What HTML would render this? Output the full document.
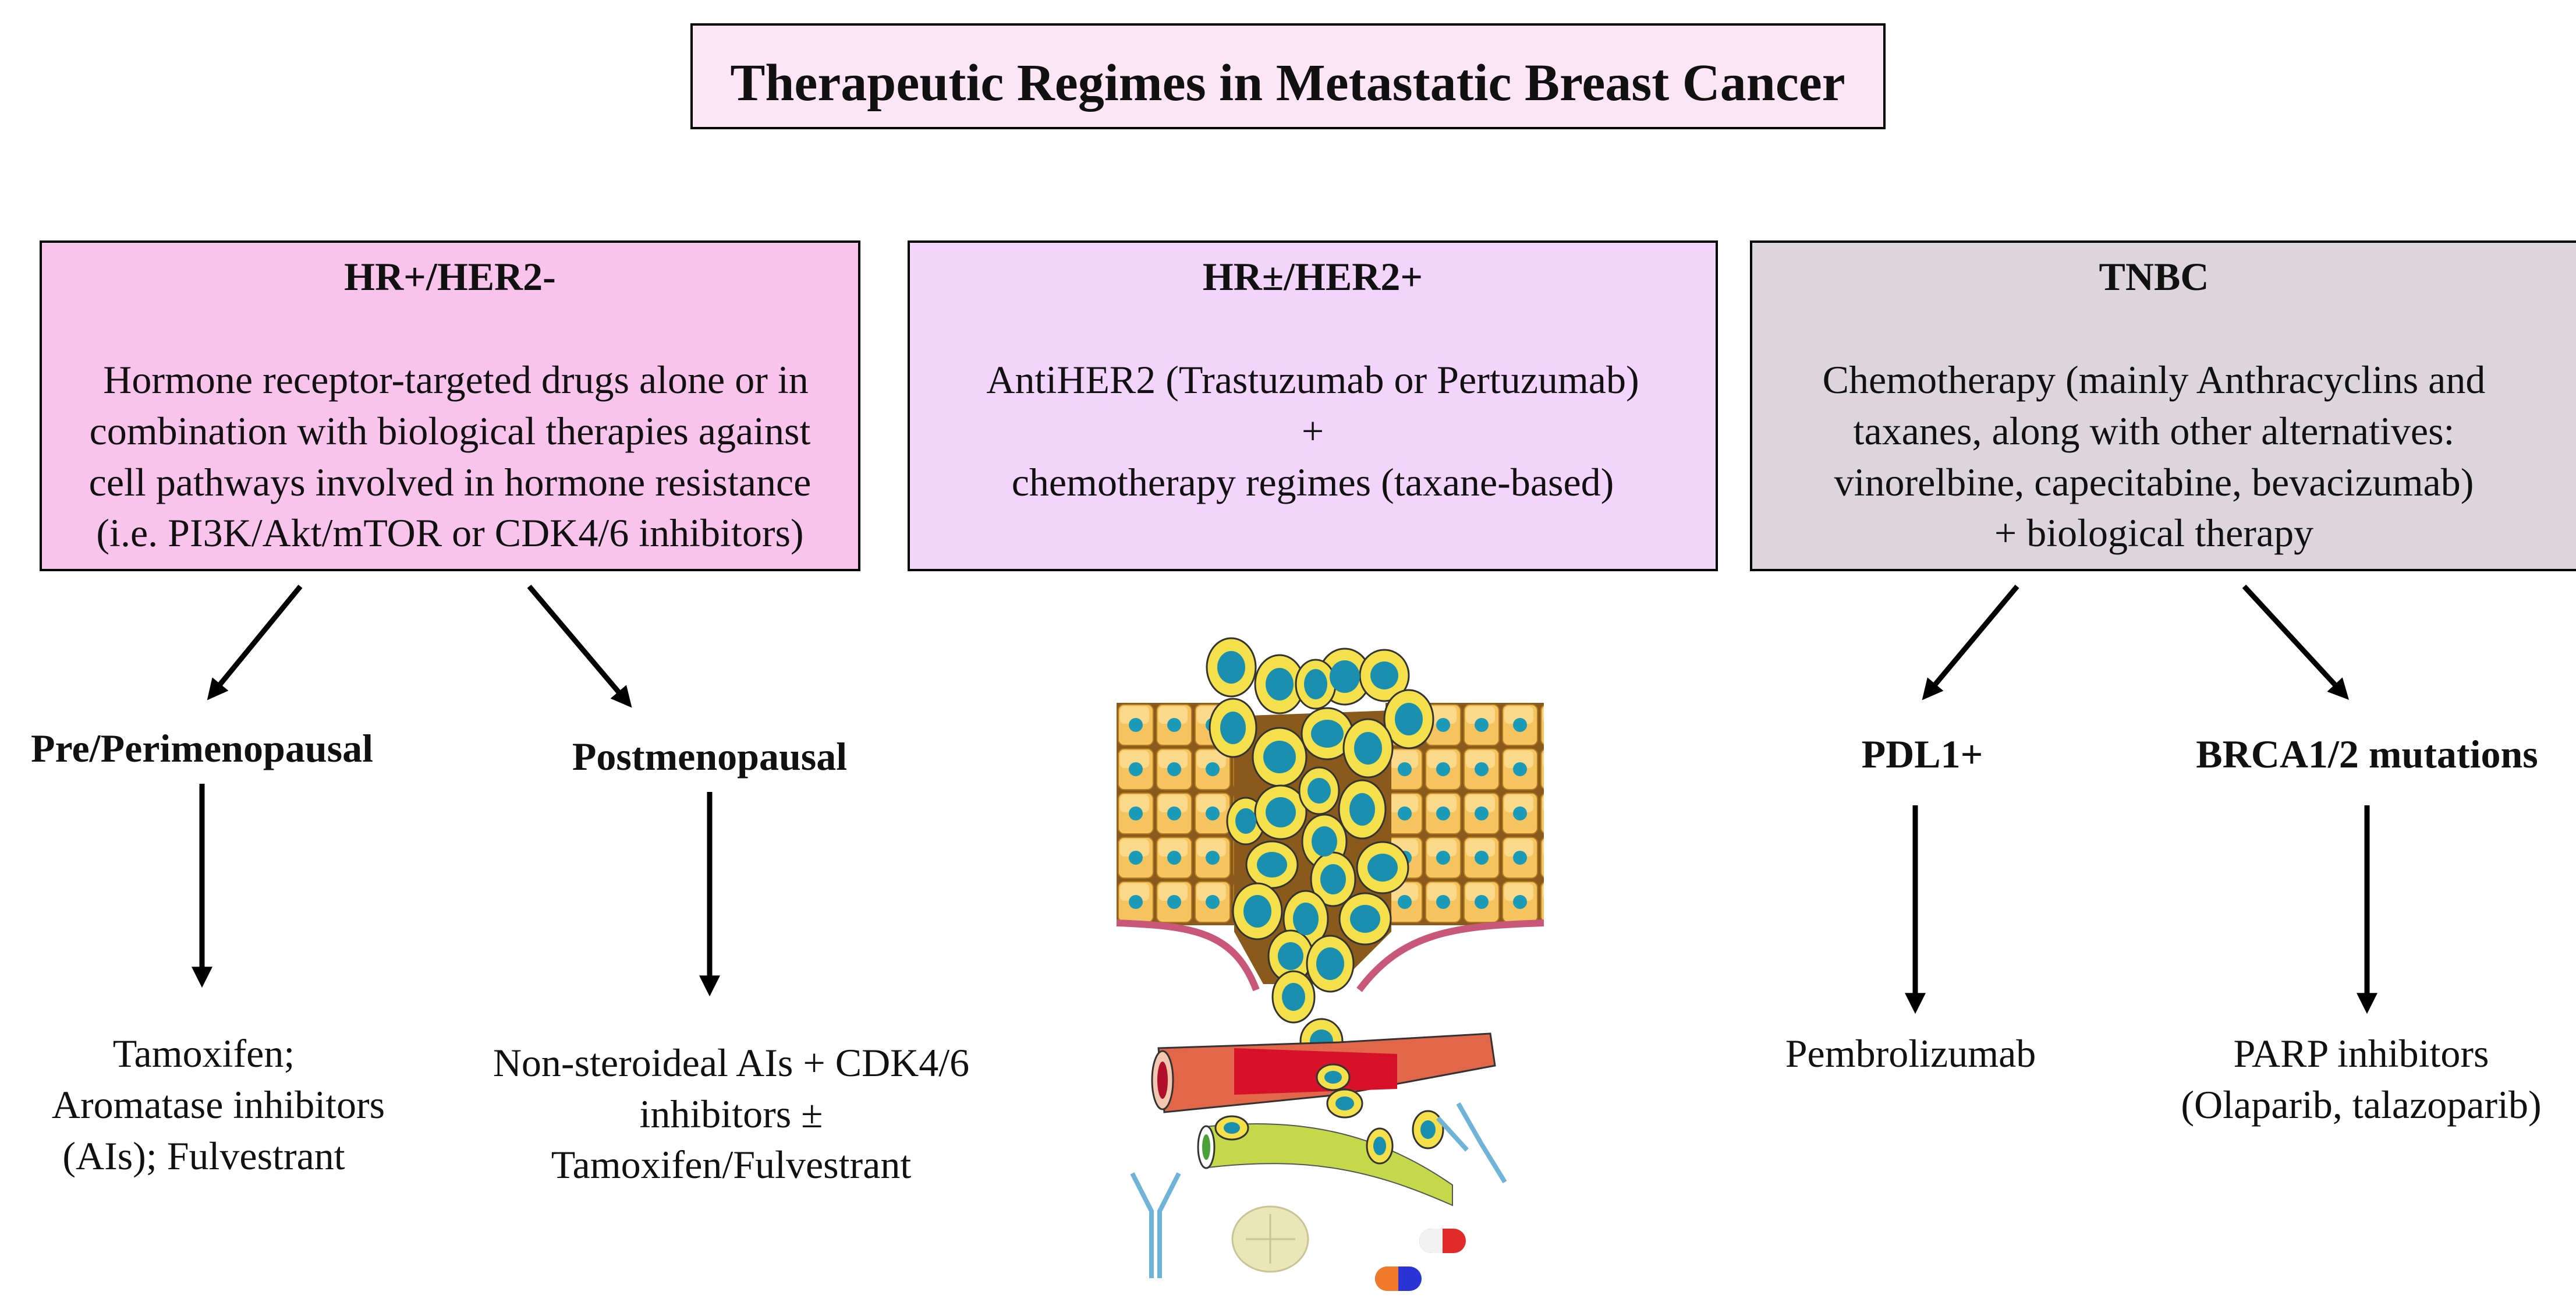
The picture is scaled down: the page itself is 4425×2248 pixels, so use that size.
<!DOCTYPE html>
<html><head><meta charset="utf-8"><style>
html,body{margin:0;padding:0;background:#fff;}
svg{display:block;}
text{font-family:"Liberation Serif","Times New Roman",Times,serif;fill:#111;}
.b{font-weight:bold;}
</style></head><body>
<svg width="4425" height="2248" viewBox="0 0 4425 2248" xmlns="http://www.w3.org/2000/svg" font-family="Liberation Serif, Times New Roman, serif">
<defs>
<marker id="ah" markerWidth="4" markerHeight="4" refX="2.2" refY="2" orient="auto" markerUnits="strokeWidth">
<path d="M0,0 L4,2 L0,4 z" fill="#000"/>
</marker>
<pattern id="grid" width="66" height="76" patternUnits="userSpaceOnUse" x="1918" y="1207">
<rect width="66" height="76" fill="#8a5a1c"/>
<rect x="3" y="3" width="60" height="70" rx="10" fill="#f6c45e" stroke="#b07a20" stroke-width="2"/>
<rect x="6" y="6" width="50" height="30" rx="8" fill="#fbd98a"/>
<circle cx="33" cy="38" r="12" fill="#1b9bb8"/>
</pattern>
</defs>

<rect x="1188" y="42" width="2049" height="178" fill="#fce6f6" stroke="#000" stroke-width="4"/>
<text x="2212" y="172" font-size="90" class="b" text-anchor="middle">Therapeutic Regimes in Metastatic Breast Cancer</text>

<rect x="70" y="415" width="1406" height="564" fill="#f8c4ec" stroke="#000" stroke-width="4"/>
<rect x="1561" y="415" width="1388" height="564" fill="#f3d4fa" stroke="#000" stroke-width="4"/>
<rect x="3008" y="415" width="1430" height="564" fill="#ddd5dc" stroke="#000" stroke-width="4"/>

<g font-size="68" text-anchor="middle">
<text x="773" y="498" class="b">HR+/HER2-</text>
<text x="783" y="675">Hormone receptor-targeted drugs alone or in</text>
<text x="773" y="763">combination with biological therapies against</text>
<text x="773" y="851">cell pathways involved in hormone resistance</text>
<text x="773" y="938">(i.e. PI3K/Akt/mTOR or CDK4/6 inhibitors)</text>

<text x="2255" y="498" class="b">HR±/HER2+</text>
<text x="2255" y="675">AntiHER2 (Trastuzumab or Pertuzumab)</text>
<text x="2255" y="763">+</text>
<text x="2255" y="851">chemotherapy regimes (taxane-based)</text>

<text x="3700" y="498" class="b">TNBC</text>
<text x="3700" y="675">Chemotherapy (mainly Anthracyclins and</text>
<text x="3700" y="763">taxanes, along with other alternatives:</text>
<text x="3700" y="851">vinorelbine, capecitabine, bevacizumab)</text>
<text x="3700" y="938">+ biological therapy</text>

<text x="347" y="1308" class="b">Pre/Perimenopausal</text>
<text x="1219" y="1322" class="b">Postmenopausal</text>
<text x="3302" y="1318" class="b">PDL1+</text>
<text x="4066" y="1318" class="b">BRCA1/2 mutations</text>

<text x="350" y="1832">Tamoxifen;</text>
<text x="375" y="1920">Aromatase inhibitors</text>
<text x="350" y="2008">(AIs); Fulvestrant</text>

<text x="1256" y="1848">Non-steroideal AIs + CDK4/6</text>
<text x="1256" y="1936">inhibitors ±</text>
<text x="1256" y="2023">Tamoxifen/Fulvestrant</text>

<text x="3282" y="1832">Pembrolizumab</text>
<text x="4056" y="1832">PARP inhibitors</text>
<text x="4056" y="1920">(Olaparib, talazoparib)</text>
</g>

<g stroke="#000" stroke-width="9" fill="none" marker-end="url(#ah)">
<line x1="516" y1="1007" x2="366" y2="1190"/>
<line x1="909" y1="1007" x2="1075" y2="1203"/>
<line x1="347" y1="1346" x2="347" y2="1680"/>
<line x1="1219" y1="1360" x2="1219" y2="1695"/>
<line x1="3465" y1="1007" x2="3312" y2="1190"/>
<line x1="3855" y1="1007" x2="4024" y2="1190"/>
<line x1="3290" y1="1383" x2="3290" y2="1725"/>
<line x1="4066" y1="1383" x2="4066" y2="1725"/>
</g>

<g>
<rect x="1918" y="1207" width="220" height="382" fill="url(#grid)"/>
<rect x="2380" y="1207" width="272" height="382" fill="url(#grid)"/>
<path d="M2120,1230 L2390,1220 L2390,1600 L2300,1690 L2170,1690 L2120,1600 z" fill="#8a5a1c"/>
<path d="M1918,1585 C2050,1590 2120,1600 2158,1700" stroke="#c9577a" stroke-width="12" fill="none"/>
<path d="M2652,1585 C2500,1590 2410,1600 2335,1700" stroke="#c9577a" stroke-width="12" fill="none"/>
<g fill="#f3e04a" stroke="#333" stroke-width="3">
<ellipse cx="2115" cy="1146" rx="42" ry="50"/><ellipse cx="2198" cy="1175" rx="42" ry="50"/>
<ellipse cx="2310" cy="1162" rx="44" ry="48"/><ellipse cx="2378" cy="1160" rx="42" ry="44"/>
<ellipse cx="2260" cy="1175" rx="34" ry="42"/><ellipse cx="2420" cy="1235" rx="42" ry="50"/>
<ellipse cx="2118" cy="1250" rx="40" ry="50"/><ellipse cx="2198" cy="1300" rx="46" ry="50"/>
<ellipse cx="2280" cy="1260" rx="44" ry="44"/><ellipse cx="2350" cy="1285" rx="42" ry="50"/>
<ellipse cx="2140" cy="1410" rx="32" ry="40"/><ellipse cx="2200" cy="1395" rx="44" ry="46"/>
<ellipse cx="2266" cy="1358" rx="34" ry="40"/><ellipse cx="2340" cy="1390" rx="40" ry="50"/>
<ellipse cx="2275" cy="1445" rx="38" ry="46"/><ellipse cx="2185" cy="1485" rx="44" ry="40"/>
<ellipse cx="2290" cy="1510" rx="38" ry="46"/><ellipse cx="2375" cy="1490" rx="44" ry="44"/>
<ellipse cx="2160" cy="1565" rx="42" ry="48"/><ellipse cx="2243" cy="1578" rx="38" ry="48"/>
<ellipse cx="2345" cy="1578" rx="44" ry="44"/><ellipse cx="2217" cy="1642" rx="38" ry="44"/>
<ellipse cx="2285" cy="1655" rx="40" ry="48"/><ellipse cx="2222" cy="1712" rx="36" ry="44"/>
<ellipse cx="2270" cy="1788" rx="36" ry="38"/>
</g>
<g fill="#1b8fb0">
<ellipse cx="2115" cy="1146" rx="24" ry="28"/><ellipse cx="2198" cy="1175" rx="24" ry="28"/>
<ellipse cx="2310" cy="1162" rx="26" ry="28"/><ellipse cx="2378" cy="1160" rx="24" ry="24"/>
<ellipse cx="2260" cy="1175" rx="20" ry="26"/><ellipse cx="2420" cy="1235" rx="24" ry="28"/>
<ellipse cx="2118" cy="1250" rx="22" ry="28"/><ellipse cx="2198" cy="1300" rx="28" ry="28"/>
<ellipse cx="2280" cy="1260" rx="28" ry="24"/><ellipse cx="2350" cy="1285" rx="24" ry="28"/>
<ellipse cx="2140" cy="1410" rx="18" ry="22"/><ellipse cx="2200" cy="1395" rx="26" ry="26"/>
<ellipse cx="2266" cy="1358" rx="20" ry="22"/><ellipse cx="2340" cy="1390" rx="22" ry="28"/>
<ellipse cx="2275" cy="1445" rx="22" ry="26"/><ellipse cx="2185" cy="1485" rx="26" ry="22"/>
<ellipse cx="2290" cy="1510" rx="22" ry="26"/><ellipse cx="2375" cy="1490" rx="26" ry="24"/>
<ellipse cx="2160" cy="1565" rx="24" ry="28"/><ellipse cx="2243" cy="1578" rx="22" ry="28"/>
<ellipse cx="2345" cy="1578" rx="26" ry="24"/><ellipse cx="2217" cy="1642" rx="22" ry="24"/>
<ellipse cx="2285" cy="1655" rx="24" ry="28"/><ellipse cx="2222" cy="1712" rx="20" ry="24"/>
<ellipse cx="2270" cy="1788" rx="20" ry="20"/>
</g>
<path d="M1990,1800 L2300,1790 L2560,1775 L2568,1830 L2300,1880 L2000,1910 z" fill="#e2664a" stroke="#333" stroke-width="3"/>
<path d="M2120,1800 L2400,1810 L2400,1870 L2120,1880 z" fill="#d8112a"/>
<ellipse cx="1997" cy="1855" rx="18" ry="50" fill="#f3c6b0" stroke="#333" stroke-width="3"/>
<ellipse cx="1997" cy="1855" rx="9" ry="32" fill="#b0102a"/>
<ellipse cx="2290" cy="1850" rx="28" ry="22" fill="#f3e04a" stroke="#333" stroke-width="3"/>
<ellipse cx="2290" cy="1850" rx="15" ry="11" fill="#1b8fb0"/>
<ellipse cx="2310" cy="1895" rx="30" ry="24" fill="#f3e04a" stroke="#333" stroke-width="3"/>
<ellipse cx="2310" cy="1895" rx="16" ry="12" fill="#1b8fb0"/>
<path d="M2070,1935 C2250,1915 2380,1955 2495,2035 L2495,2070 C2360,2010 2250,1985 2075,2005 z" fill="#c4d94a" stroke="#555" stroke-width="2"/>
<ellipse cx="2072" cy="1970" rx="14" ry="36" fill="#fff" stroke="#333" stroke-width="3"/>
<ellipse cx="2072" cy="1970" rx="7" ry="22" fill="#4aa13a"/>
<ellipse cx="2116" cy="1937" rx="28" ry="20" fill="#f3e04a" stroke="#333" stroke-width="3"/>
<ellipse cx="2116" cy="1937" rx="14" ry="10" fill="#1b8fb0"/>
<ellipse cx="2370" cy="1968" rx="22" ry="30" fill="#f3e04a" stroke="#333" stroke-width="3"/>
<ellipse cx="2370" cy="1968" rx="11" ry="16" fill="#1b8fb0"/>
<ellipse cx="2453" cy="1940" rx="26" ry="32" fill="#f3e04a" stroke="#333" stroke-width="3"/>
<ellipse cx="2453" cy="1940" rx="13" ry="16" fill="#1b8fb0"/>
<g stroke="#6fb3d9" stroke-width="8" fill="none">
<path d="M1945,2015 L1978,2080 L1978,2195 M2025,2015 L1992,2080 L1992,2195"/>
<path d="M2505,1895 L2545,1965 L2585,2030 M2470,1920 L2520,1975"/>
</g>
<ellipse cx="2182" cy="2128" rx="65" ry="56" fill="#eae6b8" stroke="#c9c495" stroke-width="3"/>
<path d="M2140,2128 L2225,2128 M2182,2085 L2182,2170" stroke="#c9c495" stroke-width="3"/>
<rect x="2438" y="2110" width="80" height="42" rx="21" fill="#e12a2a"/>
<path d="M2459,2110 L2478,2110 L2478,2152 L2459,2152 A21,21 0 0 1 2459,2110z" fill="#f2f2f2"/>
<rect x="2362" y="2175" width="80" height="42" rx="21" fill="#2a33d6"/>
<path d="M2383,2175 L2402,2175 L2402,2217 L2383,2217 A21,21 0 0 1 2383,2175z" fill="#f07a2a"/>
</g>
</svg>
</body></html>
